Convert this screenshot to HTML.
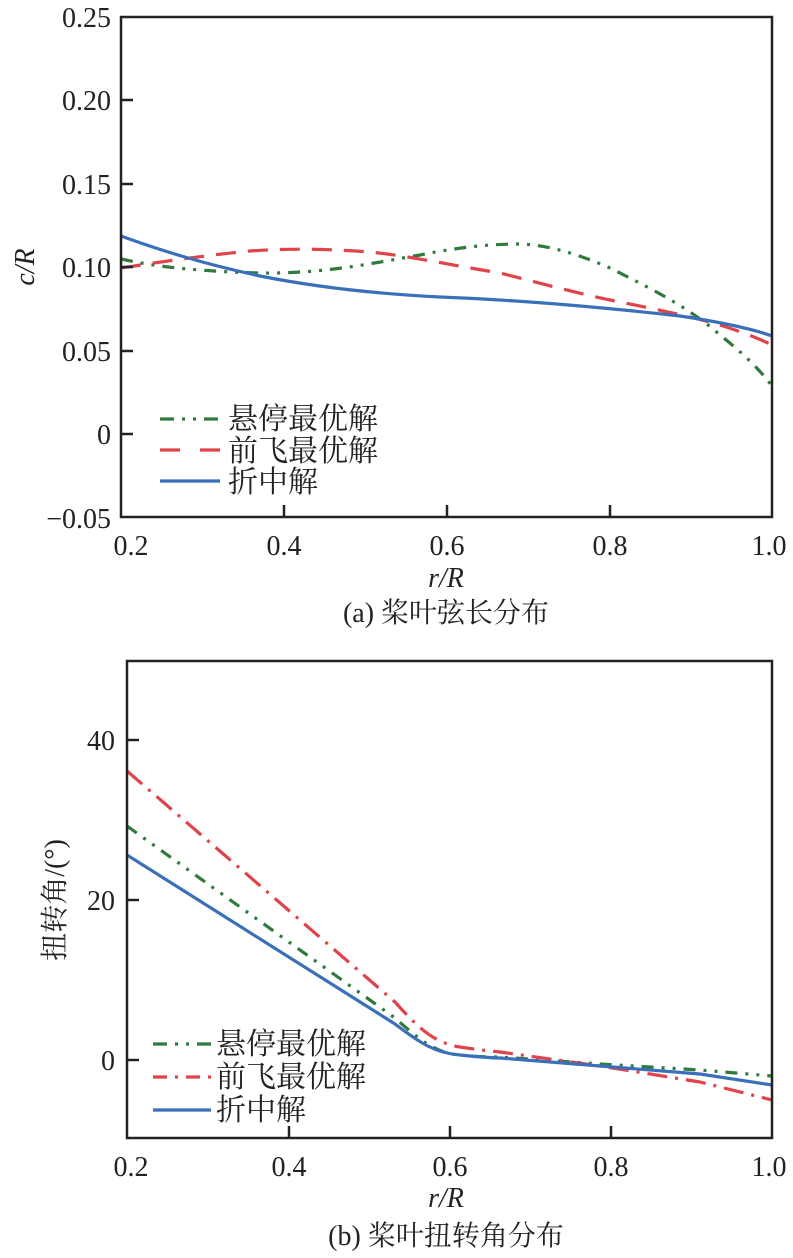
<!DOCTYPE html>
<html><head><meta charset="utf-8"><style>
body{margin:0;background:#fff;}
svg{display:block;}
text{font-family:"Liberation Serif","Noto Serif CJK SC",serif;fill:#222;}
</style></head><body>
<svg width="793" height="1258" viewBox="0 0 793 1258" xmlns="http://www.w3.org/2000/svg">
<g fill="none" stroke-width="3.2" stroke-linejoin="round" stroke-linecap="butt">
<path stroke="#2f7a3c" stroke-dasharray="12,8,3,8,3,8" d="M121,259 C140,263 160,267 200,270 C240,273 270,274 300,272 C340,270 380,262 420,255 C460,247 490,244 520,244 C550,245 580,255 610,268 C650,288 690,308 720,335 C745,355 760,370 772,386"/>
<path stroke="#e0434a" stroke-dasharray="20,12" d="M121,268 C160,262 200,256 250,251 C290,248 330,249 370,252 C410,256 450,265 500,273 C540,283 580,294 610,300 C650,308 690,316 720,325 C745,333 760,339 772,345"/>
<path stroke="#3a6fba" d="M121,236 C160,250 200,263 260,276 C320,288 380,294 440,297 C520,300 600,307 680,316 C720,322 750,328 772,336"/>
<path stroke="#2f7a3c" stroke-dasharray="12,8,3,8,3,8" d="M127,826 L395,1018 C420,1040 435,1053 460,1055 C480,1057 490,1057 500,1057 L600,1064 L700,1070 L772,1076"/>
<path stroke="#e0434a" stroke-dasharray="20,8,3,8" d="M127,771 L395,1002 C420,1030 435,1043 460,1047 C480,1050 490,1051 500,1052 L600,1066 L700,1082 L772,1100"/>
<path stroke="#3a6fba" d="M127,855 L395,1024 C420,1043 435,1053 460,1055 C480,1057 490,1058 500,1058 L600,1066 L700,1074 L772,1085"/>
</g>
<g stroke="#222" stroke-width="2.5" fill="none">
<rect x="121" y="17" width="651" height="500"/>
<path d="M121,100h12M121,184h12M121,267h12M121,351h12M121,434h12M284,517v-12M447,517v-12M610,517v-12"/>
<rect x="127" y="661" width="645" height="477"/>
<path d="M127,740h12M127,900h12M127,1060h12M289,1138v-12M450,1138v-12M611,1138v-12"/>
</g>
<g font-size="28" text-anchor="end">
<text x="111" y="27">0.25</text><text x="111" y="110">0.20</text><text x="111" y="194">0.15</text>
<text x="111" y="277">0.10</text><text x="111" y="361">0.05</text><text x="111" y="444">0</text>
<text x="111" y="528">−0.05</text>
<text x="115" y="750">40</text><text x="115" y="910">20</text><text x="115" y="1070">0</text>
</g>
<g font-size="28" text-anchor="middle">
<text x="131" y="555">0.2</text><text x="284" y="555">0.4</text><text x="447" y="555">0.6</text><text x="610" y="555">0.8</text><text x="769" y="555">1.0</text>
<text x="131" y="1176">0.2</text><text x="289" y="1176">0.4</text><text x="450" y="1176">0.6</text><text x="611" y="1176">0.8</text><text x="769" y="1176">1.0</text>
<text x="446" y="587" font-style="italic">r/R</text>
<text x="446" y="1207" font-style="italic">r/R</text>
<text x="446" y="622" font-size="28">(a) 桨叶弦长分布</text>
<text x="446" y="1245" font-size="28">(b) 桨叶扭转角分布</text>
</g>
<text font-size="28" font-style="italic" text-anchor="middle" transform="translate(34,267) rotate(-90)">c/R</text>
<text font-size="28" text-anchor="middle" transform="translate(64,900) rotate(-90)">扭转角/(°)</text>
<g fill="none" stroke-width="3.2">
<path stroke="#2f7a3c" stroke-dasharray="14,8,3,8,3,8" d="M160,419h60"/>
<path stroke="#e0434a" stroke-dasharray="20,20" d="M160,450h60"/>
<path stroke="#3a6fba" d="M160,481h60"/>
<path stroke="#2f7a3c" stroke-dasharray="14,8,3,8,3,8" d="M153,1044h58"/>
<path stroke="#e0434a" stroke-dasharray="14,8,3,8" d="M153,1077h58"/>
<path stroke="#3a6fba" d="M153,1110h58"/>
</g>
<g font-size="30">
<text x="228" y="429">悬停最优解</text><text x="228" y="461">前飞最优解</text><text x="228" y="492">折中解</text>
<text x="216" y="1054">悬停最优解</text><text x="216" y="1087">前飞最优解</text><text x="216" y="1120">折中解</text>
</g>
</svg>
</body></html>
